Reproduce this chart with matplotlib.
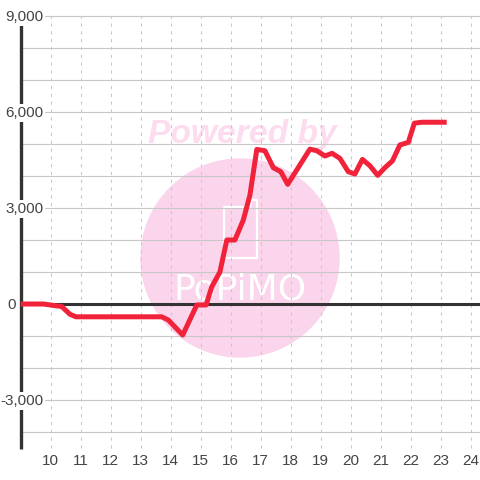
import matplotlib
matplotlib.use('Agg')
import matplotlib.pyplot as plt
from matplotlib.patches import Circle, Polygon

plt.rcParams['font.family'] = ['Liberation Sans', 'DejaVu Sans']

# values
hours = [9, 9.75, 10.37, 10.64, 10.84, 13.7, 13.92, 14.4, 14.87, 15.18, 15.37, 15.64,
         15.87, 16.14, 16.42, 16.64, 16.87, 17.14, 17.42, 17.67, 17.9, 18.64, 18.87,
         19.14, 19.38, 19.64, 19.92, 20.14, 20.39, 20.64, 20.9, 21.14, 21.39, 21.64,
         21.92, 22.12, 22.37, 23.2]
profit = [0, 0, -80, -320, -400, -400, -500, -970, -30, -30, 540, 1000,
          2000, 2000, 2625, 3400, 4830, 4790, 4260, 4135, 3740, 4840, 4790,
          4625, 4710, 4550, 4135, 4062, 4520, 4320, 4020, 4260, 4470, 4970,
          5050, 5650, 5680, 5680]
x_ticks = list(range(10, 25))
y_grid = list(range(-4000, 10000, 1000))
y_labels = [9000, 6000, 3000, 0, -3000]

fig = plt.figure(figsize=(4.8, 4.8), dpi=100)
ax = fig.add_axes([0, 0, 1, 1])
ax.set_xlim(9 - 20.7 / 30, 9 + 459.3 / 30)
ax.set_ylim(-5500, 9500)
ax.axis('off')

# gridlines
ax.hlines(y_grid, 9, 24.4, color='#c8c8c8', lw=0.8, zorder=2)
ax.vlines(x_ticks, -4500, 9000, color='#c8c8c8', lw=0.75, linestyles=(0, (3, 4.5)), zorder=2)

# watermark
trans = ax.transAxes


def px(x, y):
    return x / 480, 1 - y / 480


ax.add_patch(Circle(px(240, 258), 99 / 480, transform=trans, color='#fbd5ec', zorder=1))
phone = [px(224, 207), px(250, 207), px(251, 200), px(257, 200), px(257, 258), px(224, 258)]
ax.add_patch(Polygon(phone, closed=True, transform=trans, fc='none', ec='white', lw=1.6,
                     joinstyle='round', zorder=1.5))
ax.text(*px(240, 290), 'PoPiMO', transform=trans, color='white', fontsize=26,
        family='DejaVu Sans', ha='center', va='center', zorder=1.5)
ax.text(*px(242, 134), 'Powered by', transform=trans, color='#fcdcee', fontsize=24.2,
        fontweight='bold', fontstyle='italic', ha='center', va='center', zorder=1.5)

# axis lines
ax.vlines(9, -4530, 9000, color='#333333', lw=2.4, zorder=3)
ax.hlines(0, 9, 24.4, color='#333333', lw=2.2, zorder=3)

# y labels sit on the axis with a white box behind them
for v in y_labels:
    xpos = 8.85 if v == 0 else 9.75
    ax.text(xpos, v - 25, f'{v:,}', color='#444444', fontsize=11, ha='right', va='center', zorder=4,
            bbox=dict(fc='white', ec='none', pad=1.5) if v != 0 else None)
for t in x_ticks:
    ax.text(t, -4906, str(t), color='#444444', fontsize=11, ha='center', va='center', zorder=4)

ax.plot(hours, profit, color='#f0233a', lw=3.6, solid_joinstyle='round', solid_capstyle='butt', zorder=5)

fig.savefig('out.png', dpi=100)
plt.close(fig)
